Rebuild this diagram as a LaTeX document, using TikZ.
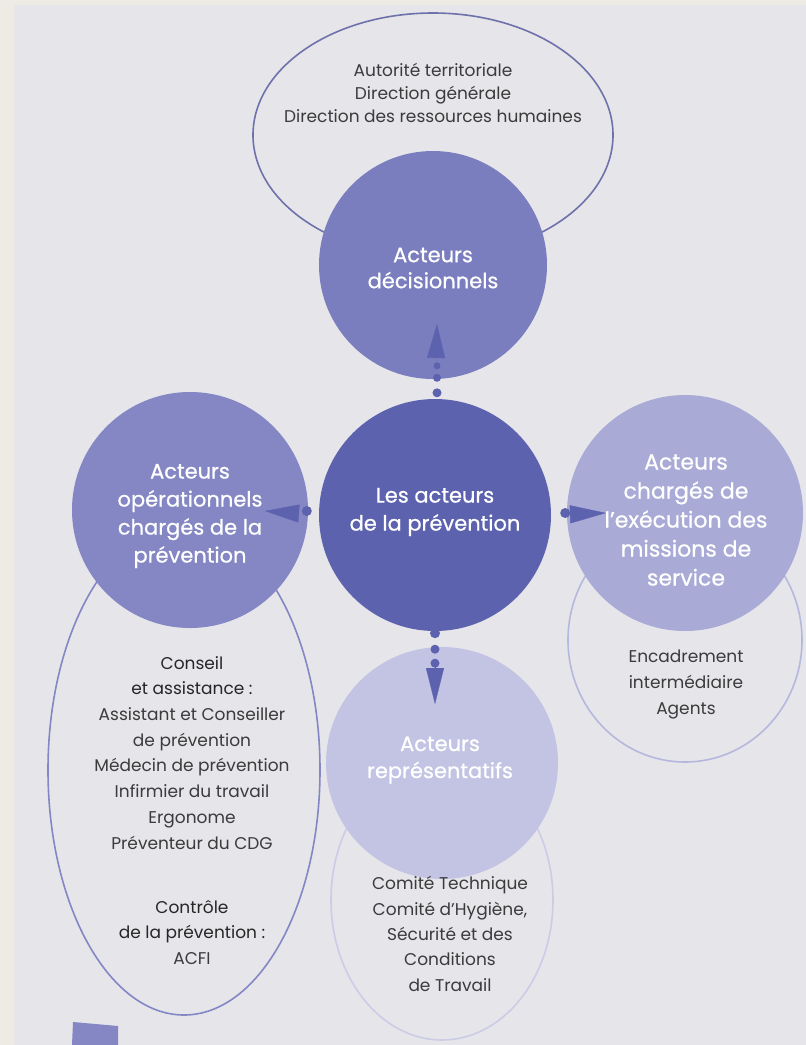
\documentclass[tikz,border=0pt]{standalone}
\usepackage{fontspec}
\setmainfont{Poppins}
\newfontfamily\etiquettefont{Poppins}[FakeBold=0.6]
\usetikzlibrary{shapes.geometric,arrows.meta}

\definecolor{fondbeige}{HTML}{EEEBE4}
\definecolor{fondgris}{HTML}{E5E5EA}
\definecolor{violetcentre}{HTML}{5D62AE}
\definecolor{violetdecision}{HTML}{7B7EBE}
\definecolor{violetoper}{HTML}{8487C4}
\definecolor{violetexec}{HTML}{A9AAD6}
\definecolor{violetrepr}{HTML}{C3C3E3}
\definecolor{textegris}{HTML}{3B3B3B}
\newcommand{\rubrique}[1]{\textcolor{black!85}{\fontsize{17}{25.7}\selectfont #1}}

\begin{document}
\begin{tikzpicture}
  [x=1pt, y=-1pt,
   every node/.style={align=center, inner sep=0pt},
   acteur/.style={circle, minimum size=#1},
   etiquette/.style={text=white, font=\etiquettefont\fontsize{21}{#1}\selectfont},
   cadre/.style={ellipse, draw=#1, line width=1.6pt},
   liste/.style={text=textegris, font=\fontsize{17}{#1}\selectfont},
   fleche/.style={violetcentre, line width=0.3pt, -{Triangle[length=#1, width=18pt]}}]

  \useasboundingbox (0,0) rectangle (806,1045);
  \fill[fondbeige] (0,0) rectangle (806,1045);
  \fill[fondgris] (14,5) rectangle (806,1045);

  \node[cadre=violetdecision!90!black, minimum width=360pt, minimum height=244pt] (cadreDecision) at (433,135) {};
  \node[cadre=violetoper, minimum width=272pt, minimum height=490pt] (cadreOper) at (184,770) {};
  \node[cadre=violetexec!85, minimum width=234pt, minimum height=244pt] (cadreExec) at (685,640) {};
  \node[cadre=violetrepr!85, minimum width=222pt, minimum height=280pt] (cadreRepr) at (442,900) {};

  \node[acteur=228pt, fill=violetdecision] (decision) at (433,265) {};
  \node[acteur=236pt, fill=violetoper] (oper) at (190,510) {};
  \node[acteur=236pt, fill=violetexec] (exec) at (685,513) {};
  \node[acteur=232pt, fill=violetrepr] (repr) at (442,763) {};
  \node[acteur=232pt, fill=violetcentre] (centre) at (435,515) {};

  \node[etiquette=26] (decisionTexte) at (433,268) {Acteurs\\décisionnels};
  \node[etiquette=28] (operTexte) at (190,516) {Acteurs\\opérationnels\\chargés de la\\prévention};
  \node[etiquette=29, font=\etiquettefont\fontsize{22}{29}\selectfont] (execTexte) at (686,520) {Acteurs\\chargés de\\l’exécution des\\missions de\\service};
  \node[etiquette=27] (reprTexte) at (440,760) {Acteurs\\représentatifs};
  \node[etiquette=28] (centreTexte) at (435,512) {Les acteurs\\de la prévention};

  \node[liste=23] (listeDecision) at (433,93) {Autorité territoriale\\Direction générale\\Direction des ressources humaines};
  \node[liste=25.7, anchor=north] (listeOper) at (192,656) {\rubrique{Conseil}\\\rubrique{et assistance :}\\
    Assistant et Conseiller\\de prévention\\Médecin de prévention\\Infirmier du travail\\Ergonome\\Préventeur du CDG};
  \node[liste=25.7, anchor=north] (listeControle) at (192,900) {\rubrique{Contrôle}\\\rubrique{de la prévention :}\\ACFI};
  \node[liste=26] (listeExec) at (686,684) {Encadrement\\intermédiaire\\Agents};
  \node[liste=25.3] (listeRepr) at (450,934) {Comité Technique\\Comité d’Hygiène,\\Sécurité et des\\Conditions\\de Travail};

  \coordinate (hautPointe) at (437,324);
  \coordinate (gauchePointe) at (265,511);
  \coordinate (droitePointe) at (606,513);
  \coordinate (basPointe) at (435,704);

  \fill[violetcentre] (centre.north) ++(2,-6) circle (4.5) ++(0,-15) circle (4) ++(0,-12) circle (3.5);
  \draw[fleche=34pt, shorten <=34pt] (centre.north) -- (hautPointe);
  \fill[violetcentre] (centre.west) ++(-12,-4) circle (5);
  \draw[fleche=34pt, shorten <=20pt] (centre.west) -- (gauchePointe);
  \fill[violetcentre] (centre.east) ++(14,-2) circle (5);
  \draw[fleche=36pt, shorten <=18pt] (centre.east) -- (droitePointe);
  \fill[violetcentre] (centre.south) ++(0,2) circle (5) ++(0,16) circle (4.5) ++(0,14) circle (4.5);
  \draw[fleche=36pt, shorten <=36pt] (centre.south) -- (basPointe);

  \fill[violetoper] (73,1022) -- (118,1026) -- (118,1045) -- (72,1045) -- cycle;
\end{tikzpicture}
\end{document}
